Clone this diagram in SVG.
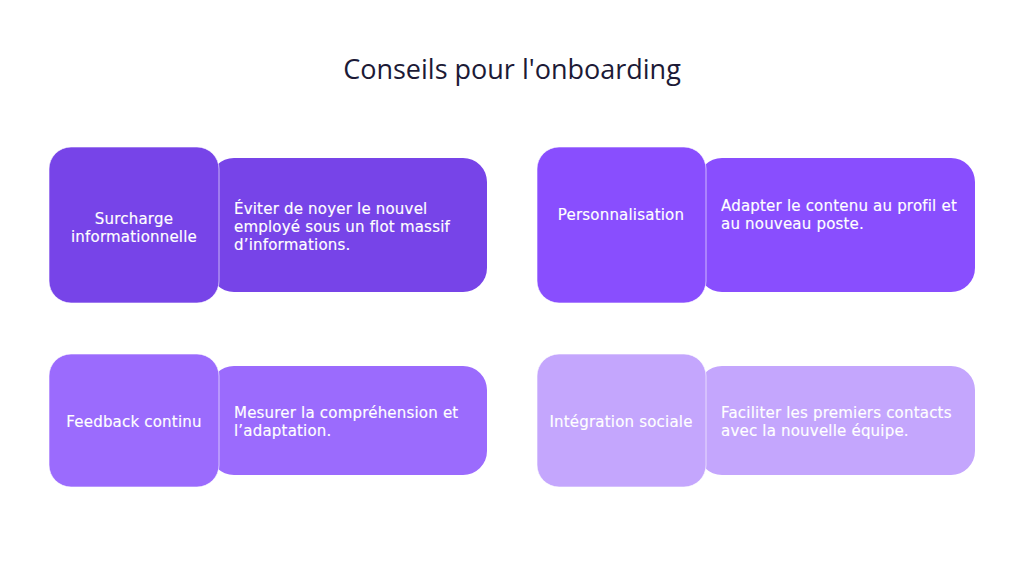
<svg xmlns="http://www.w3.org/2000/svg" width="1024" height="585" viewBox="0 0 1024 585">
<style>
.t{font-family:"DejaVu Sans","Liberation Sans",sans-serif;fill:#ffffff;font-size:15px;letter-spacing:0.2px;stroke:#ffffff;stroke-width:0.15px}
.c{text-anchor:middle}
.title{font-family:"Open Sans","Liberation Sans",sans-serif;fill:#1c1a36;font-size:27px;font-weight:500;text-anchor:middle}
.sq{stroke:#ffffff;stroke-opacity:0.6;stroke-width:1}
</style>
<rect width="1024" height="585" fill="#ffffff"/>
<text class="title" x="512" y="79">Conseils pour l'onboarding</text>
<g id="node1">
<rect x="210" y="158" width="277" height="134" rx="24" fill="#7744e8"/>
<rect class="sq" x="49" y="147" width="170" height="156" rx="22" fill="#7744e8"/>
<text class="t c" x="134" y="224">Surcharge</text>
<text class="t c" x="134" y="242">informationnelle</text>
<text class="t" x="234" y="214">Éviter de noyer le nouvel</text>
<text class="t" x="234" y="232">employé sous un flot massif</text>
<text class="t" x="234" y="250">d’informations.</text>
</g>
<g id="node2">
<rect x="698" y="158" width="277" height="134" rx="24" fill="#894efe"/>
<rect class="sq" x="537" y="147" width="169" height="156" rx="22" fill="#894efe"/>
<text class="t c" x="621" y="220">Personnalisation</text>
<text class="t" x="721" y="211">Adapter le contenu au profil et</text>
<text class="t" x="721" y="229">au nouveau poste.</text>
</g>
<g id="node3">
<rect x="210" y="366" width="277" height="109" rx="24" fill="#9b6bfd"/>
<rect class="sq" x="49" y="354" width="170" height="133" rx="22" fill="#9b6bfd"/>
<text class="t c" x="134" y="427">Feedback continu</text>
<text class="t" x="234" y="418">Mesurer la compréhension et</text>
<text class="t" x="234" y="436">l’adaptation.</text>
</g>
<g id="node4">
<rect x="698" y="366" width="277" height="109" rx="24" fill="#c4a6fd"/>
<rect class="sq" x="537" y="354" width="169" height="133" rx="22" fill="#c4a6fd"/>
<text class="t c" x="621" y="427">Intégration sociale</text>
<text class="t" x="721" y="418">Faciliter les premiers contacts</text>
<text class="t" x="721" y="436">avec la nouvelle équipe.</text>
</g>
<g id="connectors"></g>
</svg>
